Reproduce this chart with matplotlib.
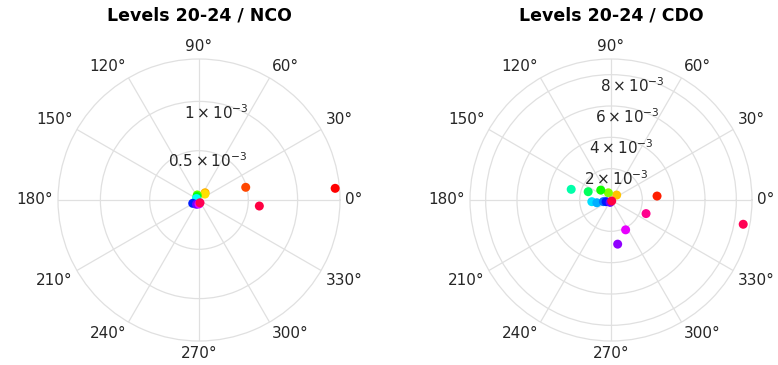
import matplotlib.pyplot as plt
import numpy as np

# ---- data (angle in degrees, radius, colour position 0..1)
titles = ["Levels 20-24 / NCO", "Levels 20-24 / CDO"]

nco_theta = [4.9, 15.2, 50, 45, 109, 120, 150, 208, 240, 270, -5.7, -70]
nco_r = [1.386e-3, 0.491e-3, 0.096e-3, 0.085e-3, 0.054e-3, 0.04e-3,
         0.03e-3, 0.072e-3, 0.05e-3, 0.04e-3, 0.615e-3, 0.03e-3]
nco_hue = [0.0, 0.05, 0.12, 0.15, 0.28, 0.35, 0.5, 0.66, 0.75, 0.83, 0.97, 0.96]

cdo_theta = [4.9, 41, 110, 136, 160, 165, 185, 191, 192, 199, 250,
             -81.4, -63.9, -21.2, -10.4, -55]
cdo_r = [2.95e-3, 0.48e-3, 0.49e-3, 0.91e-3, 1.55e-3, 2.63e-3, 1.23e-3,
         0.92e-3, 0.50e-3, 0.33e-3, 0.16e-3, 2.85e-3, 2.12e-3, 2.40e-3,
         8.58e-3, 0.08e-3]
cdo_hue = [0.02, 0.13, 0.25, 0.33, 0.40, 0.45, 0.53, 0.56, 0.60, 0.66,
           0.75, 0.77, 0.83, 0.92, 0.96, 0.97]

nco_rticks = [0.5e-3, 1e-3]
nco_rlabels = [r"$0.5\times10^{-3}$", r"$1\times10^{-3}$"]
cdo_rticks = [2e-3, 4e-3, 6e-3, 8e-3]
cdo_rlabels = [r"$2\times10^{-3}$", r"$4\times10^{-3}$",
               r"$6\times10^{-3}$", r"$8\times10^{-3}$"]
rmax = [1.43e-3, 9.0e-3]

theta_ticks = np.arange(0, 360, 30)

plt.rcParams['mathtext.fontset'] = 'dejavusans'
fig = plt.figure(figsize=(7.78, 3.65), dpi=100)

grid_col = '#e0e0e0'
text_col = '#262626'

# axes placed by pixel geometry: radius 141 px, centres at x=199 and x=611, y=200 from top
W, H = 778, 365
R = 141
for k, (cx, th, rr, hue, rt, rl) in enumerate([
        (199, nco_theta, nco_r, nco_hue, nco_rticks, nco_rlabels),
        (611, cdo_theta, cdo_r, cdo_hue, cdo_rticks, cdo_rlabels)]):
    cy = 200
    ax = fig.add_axes([(cx - R) / W, (H - cy - R) / H, 2 * R / W, 2 * R / H],
                      projection='polar')
    ax.set_ylim(0, rmax[k])
    ax.set_thetagrids(theta_ticks, [""] * len(theta_ticks))
    ax.set_rgrids(rt, labels=[""] * len(rt))
    ax.grid(True, color=grid_col, linewidth=0.9)
    ax.spines['polar'].set_color(grid_col)
    ax.spines['polar'].set_linewidth(0.9)

    # angle labels, aligned by their near edge like matlab does
    for t in theta_ticks:
        c, s = np.cos(np.deg2rad(t)), np.sin(np.deg2rad(t))
        ha = 'left' if c > 0.1 else ('right' if c < -0.1 else 'center')
        va = 'bottom' if s > 0.1 else ('top' if s < -0.1 else 'center')
        ax.text(np.deg2rad(t), rmax[k] * 1.035, f"{t}\u00b0", ha=ha, va=va,
                fontsize=11, color=text_col, clip_on=False)

    order = np.argsort(hue)
    cols = plt.cm.hsv(np.array(hue))
    ax.scatter(np.deg2rad(np.array(th))[order], np.array(rr)[order],
               c=cols[order], s=42, edgecolors='none', zorder=3, clip_on=False)

    for t, lab in zip(rt, rl):
        ax.text(np.deg2rad(80), t, lab, ha='center', va='top',
                fontsize=11, color=text_col)

    fig.text(cx / W, 1 - 16 / H, titles[k], ha='center', va='center',
             fontsize=12.5, fontweight='bold', color='black')

fig.savefig('out.png', dpi=100)
